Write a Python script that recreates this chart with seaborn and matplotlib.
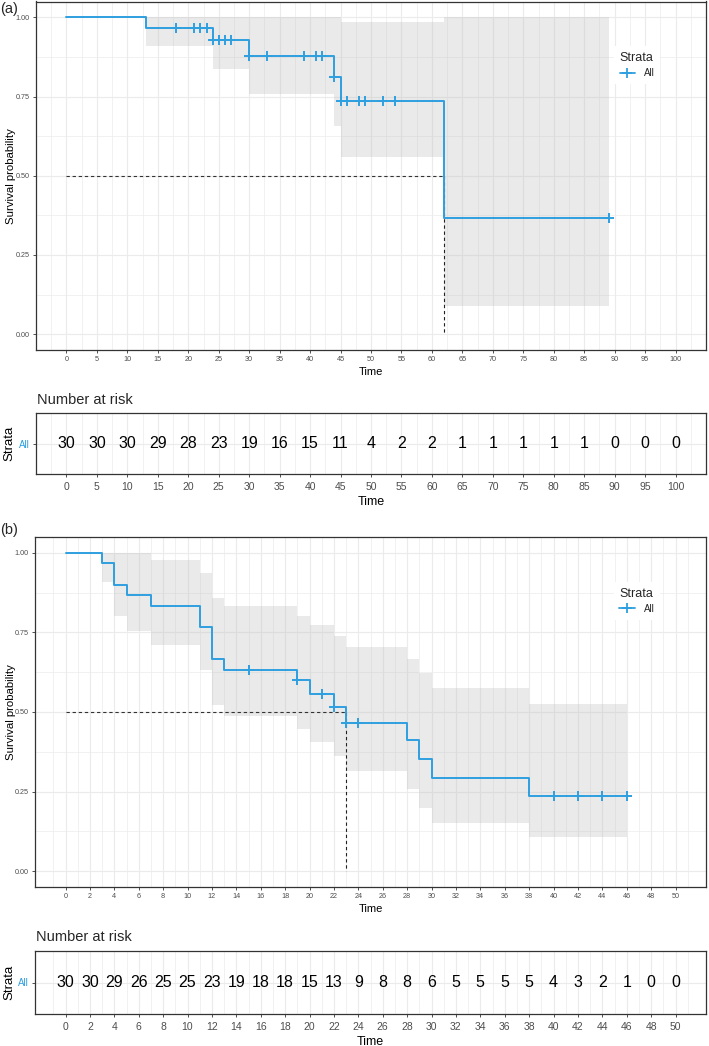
import numpy as np
import pandas as pd
import matplotlib
matplotlib.use("Agg")
import matplotlib.pyplot as plt
from matplotlib.lines import Line2D
import seaborn as sns

# ---------------- data: panel (a) ----------------
a_step_time = [0, 13, 24, 30, 44, 45, 62, 89]
a_surv = [1.0, 0.967, 0.927, 0.878, 0.811, 0.737, 0.368, 0.368]
a_lower = [1.0, 0.908, 0.837, 0.758, 0.656, 0.558, 0.090, 0.090]
a_upper = [1.0, 1.0, 1.0, 1.0, 1.0, 0.984, 1.0, 1.0]
a_censor_time = [18, 21, 22, 23, 24, 25, 26, 27, 30, 33, 39, 41, 42, 44,
                 45, 46, 48, 49, 52, 54, 89]
a_median = 62
a_risk_time = list(range(0, 101, 5))
a_risk = [30, 30, 30, 29, 28, 23, 19, 16, 15, 11, 4, 2, 2, 1, 1, 1, 1, 1, 0, 0, 0]

# ---------------- data: panel (b) ----------------
b_step_time = [0, 3, 4, 5, 7, 11, 12, 13, 19, 20, 22, 23, 28, 29, 30, 38, 46]
b_surv = [1.0, 0.967, 0.900, 0.867, 0.833, 0.767, 0.667, 0.633, 0.600, 0.558,
          0.516, 0.467, 0.411, 0.353, 0.294, 0.235, 0.235]
b_lower = [1.0, 0.908, 0.801, 0.756, 0.712, 0.631, 0.521, 0.486, 0.447, 0.405,
           0.361, 0.314, 0.257, 0.199, 0.152, 0.107, 0.107]
b_upper = [1.0, 1.0, 1.0, 1.0, 0.979, 0.937, 0.859, 0.834, 0.803, 0.772,
           0.740, 0.703, 0.667, 0.623, 0.574, 0.524, 0.524]
b_censor_time = [15, 19, 21, 22, 23, 24, 40, 42, 44, 46]
b_median = 23
b_risk_time = list(range(0, 51, 2))
b_risk = [30, 30, 29, 26, 25, 25, 23, 19, 18, 18, 15, 13, 9, 8, 8, 6, 5, 5, 5, 5,
          4, 3, 2, 1, 0, 0]

strata_label = "All"
CURVE = "#2E9FDF"
FRAME = "#333333"
TICKC = "#4D4D4D"
GRID = "#EBEBEB"

sns.set_theme(style="white")
plt.rcParams["font.family"] = ["Liberation Sans", "DejaVu Sans"]

W, H = 709, 1046
fig = plt.figure(figsize=(W / 100, H / 100), dpi=100)


def px_axes(x0, y0, x1, y1):
    return fig.add_axes([x0 / W, 1 - y1 / H, (x1 - x0) / W, (y1 - y0) / H])


def style_frame(ax):
    for s in ax.spines.values():
        s.set_visible(True)
        s.set_color(FRAME)
        s.set_linewidth(0.9)
    ax.set_facecolor("white")


def grid_x(ax, xmax, step):
    ax.set_xlim(-0.05 * xmax, 1.05 * xmax)
    ax.set_xticks(np.arange(0, xmax + 0.001, step))
    ax.set_xticks(np.arange(-step / 2, xmax + step, step), minor=True)
    ax.grid(True, which="major", axis="x", color=GRID, lw=0.8, zorder=0)
    ax.grid(True, which="minor", axis="x", color=GRID, lw=0.5, zorder=0)
    ax.set_axisbelow(True)


def surv_panel(ax, st, sv, lo, up, cens, med, xmax, step, x0px):
    style_frame(ax)
    grid_x(ax, xmax, step)
    ax.set_ylim(-0.05, 1.05)
    ax.set_yticks([0, 0.25, 0.5, 0.75, 1.0])
    ax.set_yticklabels(["0.00", "0.25", "0.50", "0.75", "1.00"])
    ax.set_yticks([0.125, 0.375, 0.625, 0.875], minor=True)
    ax.grid(True, which="major", axis="y", color=GRID, lw=0.8, zorder=0)
    ax.grid(True, which="minor", axis="y", color=GRID, lw=0.5, zorder=0)
    df = pd.DataFrame({"time": st, "surv": sv, "lower": lo, "upper": up})
    ax.fill_between(df["time"], df["lower"], df["upper"], step="post",
                    color="#BEBEBE", alpha=0.32, lw=0, zorder=1)
    sns.lineplot(data=df, x="time", y="surv", drawstyle="steps-post",
                 estimator=None, color=CURVE, lw=1.4, ax=ax, zorder=3)
    idx = np.searchsorted(np.array(st), np.array(cens), side="right") - 1
    cdf = pd.DataFrame({"time": cens, "surv": np.array(sv)[idx]})
    sns.scatterplot(data=cdf, x="time", y="surv", marker="+", s=60,
                    linewidth=1.4, color=CURVE, ax=ax, zorder=4)
    ax.plot([0, med], [0.5, 0.5], ls=(0, (3, 2.5)), color="#333333", lw=0.8, zorder=2)
    ax.plot([med, med], [0.5, 0.0], ls=(0, (3, 2.5)), color="#222222", lw=0.8, zorder=2)
    ax.tick_params(axis="both", which="major", length=2.5, width=0.6, color=FRAME,
                   labelsize=5.2, labelcolor=TICKC, pad=2, direction="out",
                   bottom=True, left=True)
    ax.tick_params(which="minor", length=0)
    ax.set_xlabel("Time", fontsize=8, labelpad=3, color="black")
    ax.set_ylabel("Survival probability", fontsize=8.2, color="black")
    w = ax.get_position().width * W
    ax.yaxis.set_label_coords((16 - x0px) / w, 0.5)
    h = Line2D([], [], color=CURVE, lw=1.3, marker="+", markersize=7, mew=1.3)
    leg = ax.legend([h], [strata_label], title="Strata", loc="upper left",
                    bbox_to_anchor=(0.855, 0.885), frameon=True, fancybox=False,
                    edgecolor="none", facecolor="white", framealpha=1,
                    fontsize=7, title_fontsize=9, handlelength=1.6,
                    handletextpad=0.9, borderpad=0.6, labelspacing=0.4)
    leg._legend_box.align = "left"


def risk_panel(ax, times, risk, xmax, step, x0px):
    style_frame(ax)
    grid_x(ax, xmax, step)
    ax.set_ylim(-1, 1)
    ax.set_yticks([0])
    ax.set_yticklabels([strata_label])
    ax.grid(True, which="major", axis="y", color=GRID, lw=0.8, zorder=0)
    for t, n in zip(times, risk):
        ax.text(t, 0, str(n), ha="center", va="center", fontsize=11.5, color="black")
    ax.tick_params(axis="x", which="major", length=2.5, width=0.6, color=FRAME,
                   labelsize=7.5, labelcolor=TICKC, pad=3, bottom=True)
    ax.tick_params(axis="y", which="major", length=2.5, width=0.6, color=FRAME,
                   labelsize=7, labelcolor=CURVE, pad=2, left=True)
    ax.tick_params(which="minor", length=0)
    ax.set_xlabel("Time", fontsize=9, labelpad=3, color="black")
    ax.set_ylabel("Strata", fontsize=9.5, color="black")
    w = ax.get_position().width * W
    ax.yaxis.set_label_coords((15 - x0px) / w, 0.5)


# panel (a)
ax_a = px_axes(36, 1.5, 706, 350)
surv_panel(ax_a, a_step_time, a_surv, a_lower, a_upper, a_censor_time, a_median, 100, 5, 36)
ax_ra = px_axes(36, 413, 706, 474)
risk_panel(ax_ra, a_risk_time, a_risk, 100, 5, 36)
fig.text(37 / W, 1 - 400 / H, "Number at risk", fontsize=10.5, ha="left", va="center")
fig.text(0.0, 1 - 9.5 / H, "(a)", fontsize=10.5, ha="left", va="center")

# panel (b)
ax_b = px_axes(35, 537, 706, 887)
surv_panel(ax_b, b_step_time, b_surv, b_lower, b_upper, b_censor_time, b_median, 50, 2, 35)
ax_rb = px_axes(35, 951, 706, 1014)
risk_panel(ax_rb, b_risk_time, b_risk, 50, 2, 35)
fig.text(36 / W, 1 - 937 / H, "Number at risk", fontsize=10.5, ha="left", va="center")
fig.text(0.0, 1 - 530 / H, "(b)", fontsize=10.5, ha="left", va="center")

fig.savefig("out.png", dpi=100)
